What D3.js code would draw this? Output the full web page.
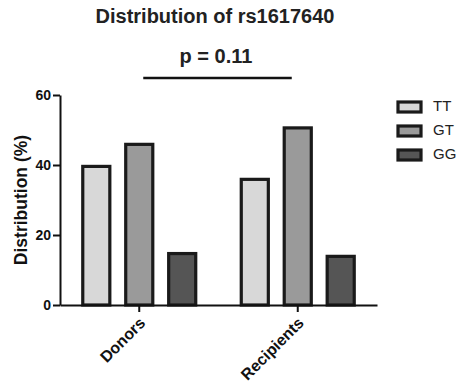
<!DOCTYPE html>
<html>
<head>
<meta charset="utf-8">
<script src="https://cdn.jsdelivr.net/npm/d3@7"></script>
<style>
  body { margin: 0; background: #fff; }
  text { font-family: "Liberation Sans", Arial, sans-serif; }
</style>
</head>
<body>
<div id="my_dataviz"></div>
<script>
// data
var groups = ["Donors", "Recipients"]
var genotypes = ["TT", "GT", "GG"]
var donors = [39.6, 45.9, 14.7]
var recipients = [35.9, 50.6, 13.9]
var yTicks = [0, 20, 40, 60]
var pLabel = "p = 0.11"

var width = 461
var height = 386
var margin = { left: 60, right: 84, top: 95, bottom: 81 }

var svg = d3.select("#my_dataviz")
    .append("svg")
    .attr("width", width)
    .attr("height", height)

var color = d3.scaleOrdinal()
    .domain(genotypes)
    .range(["#d8d8d8", "#9a9a9a", "#555555"])

var x0 = d3.scaleBand()
    .domain(groups)
    .range([margin.left, width - margin.right])
    .padding(0)

var x1 = d3.scaleBand()
    .domain(genotypes)
    .range([0, x0.bandwidth()])
    .paddingInner(0.37)
    .paddingOuter(0.53)

var y = d3.scaleLinear()
    .domain([0, 60])
    .range([height - margin.bottom, margin.top])

var data = groups.map(function(g, i) {
    var vals = i == 0 ? donors : recipients
    return { group: g, values: genotypes.map(function(k, j) { return { key: k, value: vals[j] } }) }
})

// bars
svg.append("g")
    .selectAll("g")
    .data(data)
    .enter()
    .append("g")
    .attr("transform", function(d) { return "translate(" + x0(d.group) + ",0)" })
    .selectAll("rect")
    .data(function(d) { return d.values })
    .enter()
    .append("rect")
    .attr("x", function(d) { return x1(d.key) })
    .attr("y", function(d) { return y(d.value) })
    .attr("width", x1.bandwidth())
    .attr("height", function(d) { return y(0) - y(d.value) })
    .style("fill", function(d) { return color(d.key) })
    .style("stroke", "#1a1a1a")
    .style("stroke-width", 3.2)

// y axis
var yAxis = svg.append("g")
    .attr("transform", "translate(" + margin.left + ",0)")
    .call(d3.axisLeft(y).tickValues(yTicks).tickSize(7).tickPadding(2).tickSizeOuter(0))
yAxis.select(".domain").style("stroke", "#111").style("stroke-width", 2)
yAxis.selectAll(".tick line").style("stroke", "#111").style("stroke-width", 2)
yAxis.selectAll("text").style("font-size", "14px").style("font-weight", "bold").style("fill", "#111")

// x axis
var xAxis = svg.append("g")
    .attr("transform", "translate(0," + y(0) + ")")
    .call(d3.axisBottom(x0).tickSize(7).tickSizeOuter(0))
xAxis.select(".domain").style("stroke", "#111").style("stroke-width", 2)
xAxis.selectAll(".tick line").style("stroke", "#111").style("stroke-width", 2)
xAxis.selectAll("text")
    .style("font-size", "16px")
    .style("font-weight", "bold")
    .style("fill", "#111")
    .style("text-anchor", "end")
    .attr("dy", null)
    .attr("dx", null)
    .attr("y", 0)
    .attr("transform", "translate(7,19) rotate(-45)")

// y label
svg.append("text")
    .attr("transform", "translate(27," + ((margin.top + y(0)) / 2) + ") rotate(-90)")
    .attr("text-anchor", "middle")
    .style("font-size", "17.5px")
    .style("font-weight", "bold")
    .style("fill", "#111")
    .text("Distribution (%)")

// title
svg.append("text")
    .attr("x", 215).attr("y", 23)
    .attr("text-anchor", "middle")
    .style("font-size", "20px")
    .style("font-weight", "bold")
    .style("fill", "#222")
    .text("Distribution of rs1617640")

// p value with bar between groups
svg.append("text")
    .attr("x", 216).attr("y", 63)
    .attr("text-anchor", "middle")
    .style("font-size", "20px")
    .style("font-weight", "bold")
    .style("fill", "#222")
    .text(pLabel)
svg.append("line")
    .attr("x1", x0("Donors") + x0.bandwidth() / 2 + 4)
    .attr("x2", x0("Recipients") + x0.bandwidth() / 2 - 6)
    .attr("y1", 78).attr("y2", 78)
    .style("stroke", "#111").style("stroke-width", 2.5)

// legend
var legend = svg.append("g")
    .selectAll("g")
    .data(genotypes)
    .enter()
    .append("g")
    .attr("transform", function(d, i) { return "translate(398," + (102 + i * 24) + ")" })
legend.append("rect")
    .attr("width", 23).attr("height", 10)
    .style("fill", function(d) { return color(d) })
    .style("stroke", "#1a1a1a")
    .style("stroke-width", 3.2)
legend.append("text")
    .attr("x", 35).attr("y", 5)
    .attr("dominant-baseline", "middle")
    .style("font-size", "15px")
    .style("fill", "#222")
    .text(function(d) { return d })
</script>
</body>
</html>
